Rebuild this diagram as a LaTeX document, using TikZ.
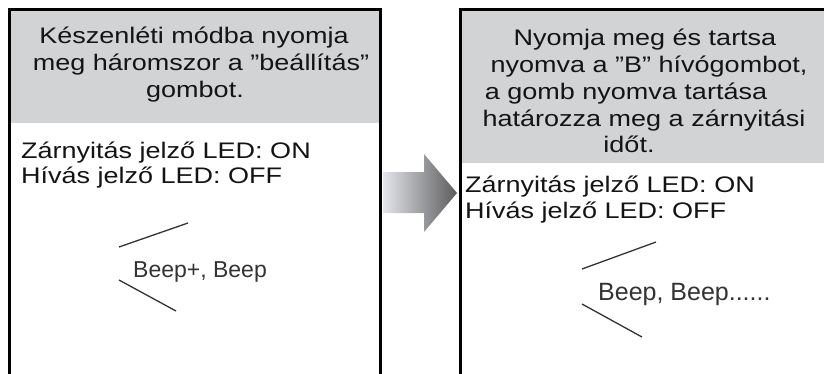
\documentclass[tikz,border=0pt]{standalone}
\usepackage{fontspec}
\setmainfont{Liberation Sans}
\definecolor{hdrgray}{HTML}{D1D3D4}
\definecolor{txt}{HTML}{141414}
\definecolor{beepc}{HTML}{333333}
\definecolor{arrlight}{HTML}{E3E5EA}
\definecolor{arrdark}{HTML}{5C5C5E}
\newcommand{\wtxt}[1]{\scalebox{1.2}[1]{#1}}
\newcommand{\dq}{\symbol{34}}
\tikzset{
  x=1pt, y=-1pt,
  frame/.style={line width=3pt, draw=black},
  hdr/.style={anchor=base, inner sep=0pt, text=txt, font=\fontsize{22.5}{26}\selectfont},
  body/.style={anchor=base west, inner sep=0pt, text=txt, font=\fontsize{22.5}{26}\selectfont},
  beeptext/.style={anchor=base west, inner sep=0pt, text=beepc},
  beepline/.style={draw=beepc, line width=1.3pt},
}
\begin{document}
\begin{tikzpicture}
\useasboundingbox (0,0) rectangle (824,373);
\fill[white] (0,0) rectangle (824,373);
% header fills
\fill[hdrgray] (9,9) rectangle (380,123);
\fill[hdrgray] (460,9) rectangle (824,163);
% frames
\draw[frame] (9,380) -- (9,9) -- (380,9) -- (380,380);
\draw[frame] (460,380) -- (460,9) -- (830,9);
% arrow
\shade[left color=arrlight, right color=arrdark, shading angle=90]
  (383,172) -- (424,172) -- (424,154) -- (457,193) -- (424,232) -- (424,213) -- (383,213) -- cycle;
% left header
\node[hdr] (l1) at (194,43) {\wtxt{Készenléti módba nyomja}};
\node[hdr] (l2) at (201,70) {\wtxt{meg háromszor a \dq beállítás\dq}};
\node[hdr] (l3) at (195,97) {\wtxt{gombot.}};
% left body
\node[body] (lb1) at (21,158) {\wtxt{Zárnyitás jelző LED: ON}};
\node[body] (lb2) at (21,183) {\wtxt{Hívás jelző LED: OFF}};
\node[beeptext, font=\fontsize{23}{27}\selectfont] (lbeep) at (133,277) {Beep+, Beep};
\coordinate (lu1) at (119,247); \coordinate (lu2) at (188,223);
\coordinate (ld1) at (119,280); \coordinate (ld2) at (176,311);
\draw[beepline] (lu1) -- (lu2);
\draw[beepline] (ld1) -- (ld2);
% right header
\node[hdr] (r1) at (645,45) {\wtxt{Nyomja meg és tartsa}};
\node[hdr] (r2) at (649,72) {\wtxt{nyomva a \dq B\dq{} hívógombot,}};
\node[hdr] (r3) at (626,99) {\wtxt{a gomb nyomva tartása}};
\node[hdr] (r4) at (644,126) {\wtxt{határozza meg a zárnyitási}};
\node[hdr] (r5) at (629,152) {\wtxt{időt.}};
% right body
\node[body] (rb1) at (465,192) {\wtxt{Zárnyitás jelző LED: ON}};
\node[body] (rb2) at (465,218) {\wtxt{Hívás jelző LED: OFF}};
\node[beeptext, font=\fontsize{25}{29}\selectfont] (rbeep) at (598,300) {Beep, Beep......};
\coordinate (ru1) at (582,269); \coordinate (ru2) at (656,242);
\coordinate (rd1) at (582,304); \coordinate (rd2) at (642,337);
\draw[beepline] (ru1) -- (ru2);
\draw[beepline] (rd1) -- (rd2);
\end{tikzpicture}
\end{document}
